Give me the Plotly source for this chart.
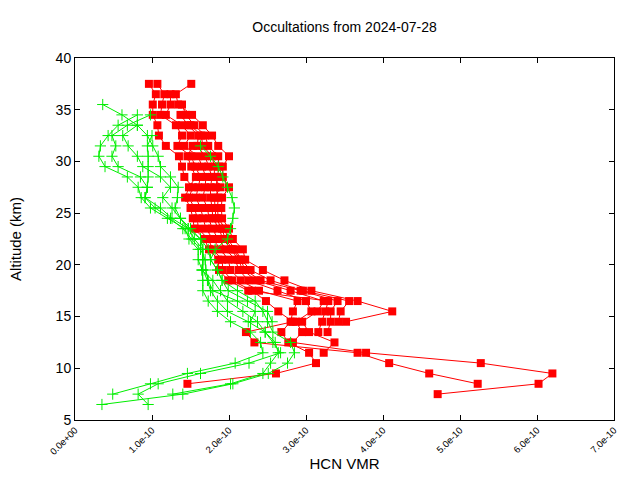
import plotly.graph_objects as go

# HCN VMR in units of 1e-10, altitude in km
UNIT = 1e-10

red_altitudes = [37.5, 36.5, 35.5, 34.5, 33.5, 32.5, 31.5, 30.5, 29.5, 28.5, 27.5,
                 26.5, 25.5, 24.5, 23.5, 22.5, 21.5, 20.5, 19.5, 18.5, 17.5, 16.5,
                 15.5, 14.5, 13.5, 12.5, 11.5, 10.5, 9.5, 8.5, 7.5]

red_1 = [0.96, 1.05, 1.01, 1.01, 1.07, 1.09, 1.18, 1.35, 1.39, 1.42, 1.53, 1.48, 1.55, 1.59,
         1.60, 1.73, 1.79, 1.91, 1.92, 2.04, 2.30, 2.48, 2.64, 2.83, 2.22, 2.33, 3.67, 4.08,
         4.60, 5.23, None]
red_2 = [1.07, 1.16, 1.13, 1.11, 1.31, 1.39, 1.33, 1.51, 1.56, 1.63, 1.60, 1.57, 1.63, 1.66,
         1.70, 1.79, 1.89, 1.99, 2.02, 2.15, 2.39, 2.89, 2.83, 2.80, 2.68, 2.77, 3.04, 3.13,
         2.61, 1.46, None]
red_3 = [1.51, 1.31, 1.34, 1.52, 1.66, 1.78, 1.86, 2.00, 1.92, 1.92, 2.00, 1.91, 1.90, 1.91,
         2.00, 2.05, 2.18, 2.21, 2.44, 2.72, 3.07, 3.67, 4.12, 3.52, None, None, None, None,
         None, None, None]
red_4 = [None, 1.24, 1.24, 1.18, 1.39, 1.50, 1.42, 1.60, 1.65, 1.70, 1.69, 1.66, 1.72, 1.74,
         1.78, 1.86, 1.96, 2.08, 2.13, 2.25, 2.63, 3.00, 3.07, 2.87, 2.95, 2.83, 3.78, 5.27,
         6.20, 6.02, 4.71]
red_5 = [None, None, 1.39, 1.44, 1.55, 1.69, 1.73, 1.86, 1.87, 1.85, 1.83, 1.86, 1.85, 1.86,
         1.95, 1.98, 2.08, 2.16, 2.28, 2.54, 2.96, 3.56, 3.45, 3.42, None, None, None, None,
         None, None, None]
red_6 = [None, None, None, 1.37, 1.47, 1.60, 1.59, 1.69, 1.73, 1.78, 1.76, 1.76, 1.78, 1.79,
         1.87, 1.92, 2.03, 2.12, 2.18, 2.35, 2.80, 3.23, 3.15, 2.95, 3.04, 3.37, 3.23, None,
         None, None, None]
red_7 = [None, None, None, None, 1.50, 1.64, 1.66, 1.78, 1.81, 1.81, 1.89, 1.81, 1.82, 1.83,
         1.91, 1.95, 2.05, 2.15, 2.21, 2.41, 2.93, 3.41, 3.32, 3.32, 3.28, None, None, None,
         None, None, None]
red_8 = [None, None, None, None, None, None, 1.53, 1.46, 1.51, 1.57, 1.48, 1.43, 1.50, 1.53,
         1.55, 1.68, 1.74, 1.86, 1.87, 1.99, 2.25, 3.29, 3.25, 3.21, 3.16, None, None, None,
         None, None, None]

green_altitudes = [35.5, 34.5, 33.5, 32.5, 31.5, 30.5, 29.5, 28.5, 27.5, 26.5, 25.5,
                   24.5, 23.5, 22.5, 21.5, 20.5, 19.5, 18.5, 17.5, 16.5, 15.5, 14.5,
                   13.5, 12.5, 11.5, 10.5, 9.5, 8.5, 7.5, 6.5]

green_1 = [0.36, 0.61, 0.81, 0.94, 1.01, 1.08, 1.11, 1.24, 1.34, 1.33, 1.30, 1.37, 1.50, 1.63,
           1.73, 1.76, 1.85, 1.91, 2.11, 2.34, 2.44, 2.50, 2.57, 2.80, 2.85, 2.76, 2.51, 2.05,
           1.40, 0.35]
green_2 = [None, 0.81, 0.56, 0.43, 0.33, 0.31, 0.39, 0.68, 0.82, 0.86, 0.98, 1.20, 1.43, 1.48,
           1.60, 1.60, 1.65, 1.66, 1.66, 1.73, 1.85, 2.02, 2.28, 2.41, 2.44, 2.08, 1.46, 0.98,
           0.49, None]
green_3 = [None, 0.98, 0.68, 0.48, 0.53, 0.48, 0.56, 0.85, 0.94, 0.91, 1.11, 1.26, 1.47, 1.55,
           1.66, 1.66, 1.66, 1.72, 1.76, 1.85, 1.98, 2.25, 2.47, 2.57, 2.67, 2.26, 1.63, 1.08,
           0.82, 0.95]
green_4 = [None, None, 0.81, 0.62, 0.69, 0.81, 0.88, 1.11, 1.24, 1.14, 1.26, 1.37, 1.47, 1.63,
           1.66, 1.66, 1.65, 1.79, 1.89, 1.98, 2.18, 2.37, 2.47, 2.60, 2.64, 2.54, 2.44, 2.02,
           1.27, None]
green_5 = [None, None, None, 1.00, 0.94, 0.95, 0.95, 0.95, 0.94, 0.91, 1.04, 1.24, 1.40, 1.52,
           1.63, 1.69, 1.70, 1.73, 1.79, 2.11, 2.34, 2.28, None, None, None, None, None, None,
           None, None]
green_6 = [None, None, None, None, 1.63, 1.76, 1.86, 1.92, 1.98, 2.04, 2.07, 2.05, 2.02, 1.98,
           1.82, 1.76, 1.85, 1.91, 1.99, 2.24, 2.50, 2.56, None, None, None, None, None, None,
           None, None]

x_tick_values = [0, 1, 2, 3, 4, 5, 6, 7]
x_tick_labels = ["0.0e+00", "1.0e-10", "2.0e-10", "3.0e-10", "4.0e-10", "5.0e-10",
                 "6.0e-10", "7.0e-10"]
y_tick_values = [5, 10, 15, 20, 25, 30, 35, 40]

RED = "#ff0000"
GREEN = "#00ee00"


def scaled(vals):
    return [None if v is None else v * UNIT for v in vals]


fig = go.Figure()

for prof in [red_1, red_2, red_3, red_4, red_5, red_6, red_7, red_8]:
    fig.add_trace(go.Scatter(
        x=scaled(prof), y=red_altitudes, mode="lines+markers",
        line=dict(color=RED, width=1),
        marker=dict(symbol="square", size=8, color=RED, line=dict(width=0)),
        showlegend=False, hoverinfo="skip"))

for prof in [green_1, green_2, green_3, green_4, green_5, green_6]:
    fig.add_trace(go.Scatter(
        x=scaled(prof), y=green_altitudes, mode="lines+markers",
        line=dict(color=GREEN, width=1),
        marker=dict(symbol="cross-thin", size=8, color=GREEN,
                    line=dict(width=1, color=GREEN)),
        showlegend=False, hoverinfo="skip"))

fig.update_layout(
    width=640, height=480,
    margin=dict(l=75, r=26, t=58, b=60),
    paper_bgcolor="white", plot_bgcolor="white",
    font=dict(family="Liberation Sans, Arial, sans-serif", color="black", size=13),
    title=dict(text="Occultations from 2024-07-28", x=0.5, xref="paper",
               xanchor="center", y=1 - 27 / 480, yanchor="middle",
               font=dict(size=14)),
    showlegend=False,
)

fig.update_xaxes(
    range=[0, 7 * UNIT],
    tickvals=[v * UNIT for v in x_tick_values], ticktext=x_tick_labels,
    tickangle=-45, tickfont=dict(size=9.5),
    ticks="inside", ticklen=5, tickcolor="black",
    showline=True, linecolor="black", linewidth=1, mirror="ticks",
    showgrid=False, zeroline=False, automargin=False,
    title=dict(text="HCN VMR", font=dict(size=15), standoff=2),
)
fig.update_yaxes(
    range=[5, 40], tickvals=y_tick_values,
    tickfont=dict(size=14),
    ticks="inside", ticklen=5, tickcolor="black",
    showline=True, linecolor="black", linewidth=1, mirror="ticks",
    showgrid=False, zeroline=False, automargin=False,
    title=dict(text="Altitude (km)", font=dict(size=15), standoff=30),
)

fig.write_html("out.html")
